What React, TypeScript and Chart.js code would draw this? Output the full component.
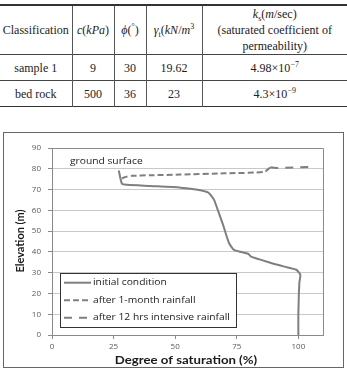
import React, { useEffect, useRef } from "react";
import { Chart, registerables } from "chart.js";

Chart.register(...registerables);

// ---- data ----
const X_TICKS = [0, 25, 50, 75, 100];
const Y_TICKS = [0, 10, 20, 30, 40, 50, 60, 70, 80, 90];

const initialSat = [27.1, 28.4, 30.5, 40, 52.2, 58.4, 63.3, 65.7, 66.5, 69.4, 71.8, 73.9, 79.6, 80.8, 88, 94.3, 99.2, 100.8, 100.4, 100, 100];
const initialElev = [79.2, 72.8, 72.3, 71.7, 70.9, 70, 68.6, 65.2, 62.8, 53.1, 44.4, 41, 39.1, 37.7, 35, 32.9, 31.4, 29, 25.1, 10, 0];

const monthSat = [28.4, 30, 32.5, 40, 52, 70, 86.2, 88.6];
const monthElev = [75.4, 76.1, 76.6, 76.9, 77.2, 77.8, 78.5, 80.7];

const hrsSat = [88.6, 91, 98, 105.3];
const hrsElev = [80.7, 80.4, 80.6, 80.9];

const SERIES_NAMES = ["initial condition", "after 1-month rainfall", "after 12 hrs intensive rainfall"];

const TABLE_HEAD_CLASS = "Classification";
const ROWS = [
  { name: "sample 1", c: "9", phi: "30", gamma: "19.62", ksBase: "4.98", ksExp: "−7" },
  { name: "bed rock", c: "500", phi: "36", gamma: "23", ksBase: "4.3", ksExp: "−9" },
];

const toPts = (xs: number[], ys: number[]) => xs.map((x, i) => ({ x, y: ys[i] }));

const LINE = "#7f7f7f";
const DASHES = [[], [6, 3], [8, 7]];

function wideText(ctx: any, text: string, x: number, y: number, sx: number, align: string) {
  ctx.save();
  ctx.translate(x, y);
  ctx.scale(sx, 1);
  ctx.textAlign = align;
  ctx.fillText(text, 0, 0);
  ctx.restore();
}

const overlay = {
  id: "overlay",
  beforeDatasetsDraw(chart: any) {
    const { ctx, chartArea: a } = chart;
    ctx.save();
    ctx.strokeStyle = "#8a8a8a";
    ctx.lineWidth = 1;
    ctx.beginPath();
    ctx.moveTo(a.left, a.top + 0.5);
    ctx.lineTo(a.right + 0.5, a.top + 0.5);
    ctx.lineTo(a.right + 0.5, a.bottom);
    ctx.stroke();
    ctx.restore();
  },
  afterDraw(chart: any) {
    const { ctx } = chart;
    ctx.save();
    // annotation
    ctx.fillStyle = "#222";
    ctx.font = "9.5px 'Open Sans'";
    ctx.textBaseline = "middle";
    wideText(ctx, "ground surface", 66, 28, 1.08, "left");

    // legend box
    const bx = 56.5, by = 140.5, bw = 176, bh = 54;
    ctx.fillStyle = "#fff";
    ctx.fillRect(bx, by, bw, bh);
    ctx.strokeStyle = "#333";
    ctx.lineWidth = 1;
    ctx.strokeRect(bx, by, bw, bh);
    const ys = [149.7, 167.3, 184.7];
    chart.data.datasets.forEach((ds: any, i: number) => {
      ctx.strokeStyle = ds.borderColor;
      ctx.lineWidth = ds.borderWidth;
      ctx.setLineDash(ds.borderDash || []);
      ctx.beginPath();
      ctx.moveTo(60, ys[i]);
      ctx.lineTo(87, ys[i]);
      ctx.stroke();
      ctx.setLineDash([]);
      ctx.fillStyle = "#222";
      ctx.font = "8.5px 'Open Sans'";
      ctx.textBaseline = "middle";
      wideText(ctx, ds.label, 89, ys[i], 1.21, "left");
    });

    // axis titles
    ctx.fillStyle = "#1a1a1a";
    ctx.font = "bold 11px Lato";
    ctx.textBaseline = "middle";
    wideText(ctx, "Degree of saturation (%)", 182, 227, 1.2, "center");
    ctx.translate(16, 108);
    ctx.rotate(-Math.PI / 2);
    ctx.textAlign = "center";
    ctx.fillText("Elevation (m)", 0, 0);
    ctx.restore();
  },
};

function ChartBox() {
  const ref = useRef<HTMLCanvasElement>(null);
  useEffect(() => {
    if (!ref.current) return;
    const tickFont = { family: "'Open Sans'", size: 8 };
    const chart = new Chart(ref.current, {
      type: "line",
      data: {
        datasets: [
          { label: SERIES_NAMES[0], data: toPts(initialSat, initialElev), borderColor: LINE, borderWidth: 2, borderDash: DASHES[0], pointRadius: 0, tension: 0.2, fill: false },
          { label: SERIES_NAMES[1], data: toPts(monthSat, monthElev), borderColor: LINE, borderWidth: 2, borderDash: DASHES[1], pointRadius: 0, tension: 0.2, fill: false },
          { label: SERIES_NAMES[2], data: toPts(hrsSat, hrsElev), borderColor: LINE, borderWidth: 2, borderDash: DASHES[2], pointRadius: 0, tension: 0, fill: false },
        ],
      },
      options: {
        animation: false,
        responsive: false,
        layout: { padding: { top: 15, right: 20, left: 0, bottom: 0 } },
        plugins: { legend: { display: false }, tooltip: { enabled: false } },
        scales: {
          x: {
            type: "linear",
            min: 0,
            max: 110,
            afterBuildTicks: (s: any) => { s.ticks = X_TICKS.map((v) => ({ value: v })); },
            afterFit: (s: any) => { s.height = 32; },
            grid: { drawOnChartArea: false, tickLength: 4, tickColor: "#8a8a8a" },
            border: { color: "#8a8a8a" },
            ticks: { font: tickFont, color: "#595959", padding: 3, maxRotation: 0 },
          },
          y: {
            type: "linear",
            min: 0,
            max: 90,
            afterBuildTicks: (s: any) => { s.ticks = Y_TICKS.map((v) => ({ value: v })); },
            afterFit: (s: any) => { s.width = 48; },
            grid: { color: "#c8c8c8", tickLength: 4, tickColor: "#8a8a8a" },
            border: { color: "#8a8a8a" },
            ticks: { font: tickFont, color: "#595959", padding: 7 },
          },
        },
      },
      plugins: [overlay],
    } as any);
    return () => chart.destroy();
  }, []);
  return <canvas ref={ref} width={339} height={234} style={{ display: "block", width: 339, height: 234 }} />;
}

const cell: React.CSSProperties = {
  borderLeft: "1px solid #555",
  borderRight: "1px solid #555",
  textAlign: "center",
  padding: 0,
  verticalAlign: "middle",
};
const supS: React.CSSProperties = { fontSize: 8, lineHeight: 0 };

export default function App() {
  useEffect(() => {
    document.body.style.margin = "0";
  }, []);
  const rowStyle: React.CSSProperties = { height: 26, borderTop: "1px solid #444" };
  return (
    <div style={{ position: "relative", width: 347, height: 371, background: "#fff", fontFamily: "'Liberation Serif', serif", color: "#222" }}>
      <table
        style={{
          position: "absolute",
          left: 0,
          top: 4,
          width: 347,
          borderCollapse: "collapse",
          tableLayout: "fixed",
          fontSize: 12,
          lineHeight: "16px",
          borderTop: "2px solid #333",
          borderBottom: "1px solid #333",
          borderLeft: "none",
          borderRight: "none",
        }}
      >
        <colgroup>
          <col style={{ width: 72 }} />
          <col style={{ width: 42 }} />
          <col style={{ width: 32 }} />
          <col style={{ width: 56 }} />
          <col style={{ width: 145 }} />
        </colgroup>
        <tbody>
          <tr style={{ height: 49 }}>
            <td style={{ ...cell, borderLeft: "none" }}>{TABLE_HEAD_CLASS}</td>
            <td style={cell}><i>c</i>(<i>kPa</i>)</td>
            <td style={cell}><i>ϕ</i>(<sup style={supS}>°</sup>)</td>
            <td style={{ ...cell, whiteSpace: "nowrap", overflow: "hidden" }}><i>γ</i><sub style={supS}>t</sub>(<i>kN</i>/<i>m</i><sup style={supS}>3</sup></td>
            <td style={{ ...cell, borderRight: "none", lineHeight: "16px" }}>
              <i>k</i><sub style={supS}>s</sub>(<i>m</i>/sec)<br />(saturated coefficient of<br />permeability)
            </td>
          </tr>
          {ROWS.map((r) => (
            <tr key={r.name} style={rowStyle}>
              <td style={{ ...cell, borderLeft: "none" }}>{r.name}</td>
              <td style={cell}>{r.c}</td>
              <td style={cell}>{r.phi}</td>
              <td style={cell}>{r.gamma}</td>
              <td style={{ ...cell, borderRight: "none" }}>
                {r.ksBase}×10<sup style={supS}>{r.ksExp}</sup>
              </td>
            </tr>
          ))}
        </tbody>
      </table>
      <div style={{ position: "absolute", left: 3, top: 132, width: 341, height: 236, boxSizing: "border-box", border: "1px solid #666" }}>
        <ChartBox />
      </div>
    </div>
  );
}
